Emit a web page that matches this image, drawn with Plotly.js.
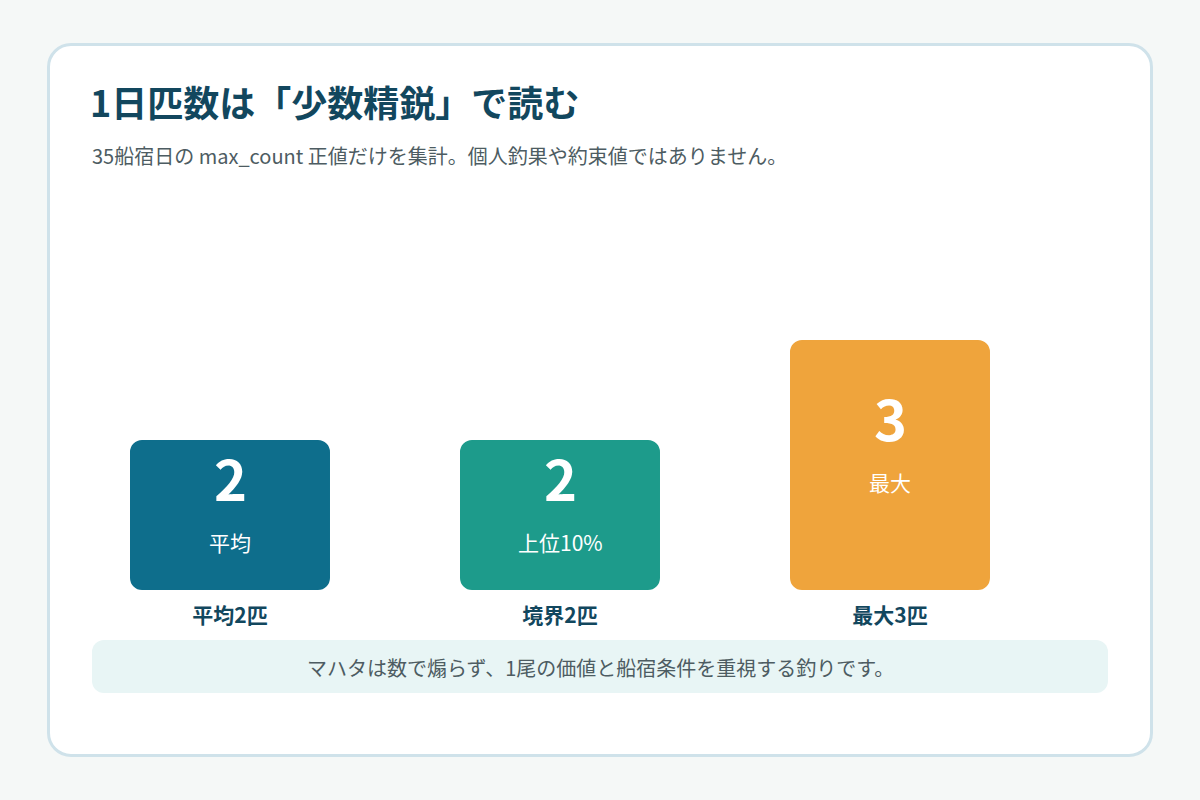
<!DOCTYPE html>
<html lang="ja">
<head>
<meta charset="utf-8">
<script src="https://cdn.plot.ly/plotly-3.0.1.min.js"></script>
<style>
  html, body { margin: 0; padding: 0; background: #f5f8f7; }
  #card {
    position: absolute; left: 47px; top: 43px; width: 1100px; height: 708px;
    background: #ffffff; border: 3px solid #cfe2ea; border-radius: 24px;
  }
  #note {
    position: absolute; left: 92px; top: 640px; width: 1016px; height: 53px;
    background: #e8f5f5; border-radius: 12px;
  }
  #chart { position: absolute; left: 0; top: 0; width: 1200px; height: 800px; }
</style>
</head>
<body>
<div id="card"></div>
<div id="note"></div>
<div id="chart"></div>
<script>
// chart data
const categories = ["平均2匹", "境界2匹", "最大3匹"];
const values = [2, 2, 3];
const innerLabels = ["平均", "上位10%", "最大"];
const barColors = ["#0e6e8c", "#1d9b8b", "#efa43c"];

const FONT = "'Noto Sans CJK JP', 'Noto Sans', sans-serif";
const INK = "#12475e";
const GRAY = "#4d5c62";

// plot area in window pixels
const M = { l: 65, r: 145, t: 190, b: 210 };
const W = 1200 - M.l - M.r;
const H = 800 - M.t - M.b;
const Y_FLOOR = 0.5;
const Y_TOP = 4.5;

// window pixel -> paper coords
const px = (x) => (x - M.l) / W;
const py = (y) => (800 - M.b - y) / H;

// floating bars from the axis floor, so both ends get rounded corners
const trace = {
  type: "bar",
  x: categories,
  y: values.map((v) => v - Y_FLOOR),
  base: values.map(() => Y_FLOOR),
  width: 0.606,
  marker: { color: barColors, cornerradius: 12, line: { width: 0 } },
  hoverinfo: "skip",
};

const annotations = [];
categories.forEach((cat, i) => {
  const yNum = Y_FLOOR + 0.2 + 0.6 * (values[i] - Y_FLOOR);
  annotations.push({
    x: cat, y: yNum, xref: "x", yref: "y", yshift: 4,
    text: String(values[i]), showarrow: false,
    font: { family: FONT, size: 56, weight: 700, color: "#ffffff" },
    xanchor: "center", yanchor: "middle",
  });
  annotations.push({
    x: cat, y: yNum, xref: "x", yref: "y", yshift: -62,
    text: innerLabels[i], showarrow: false,
    font: { family: FONT, size: 21, color: "#ffffff" },
    xanchor: "center", yanchor: "middle",
  });
});

annotations.push({
  x: px(90), y: py(155), xref: "paper", yref: "paper",
  text: "35船宿日の max_count 正値だけを集計。個人釣果や約束値ではありません。",
  showarrow: false, xanchor: "left", yanchor: "middle",
  font: { family: FONT, size: 20, color: GRAY },
});
annotations.push({
  x: px(600), y: py(667), xref: "paper", yref: "paper",
  text: "マハタは数で煽らず、1尾の価値と船宿条件を重視する釣りです。",
  showarrow: false, xanchor: "center", yanchor: "middle",
  font: { family: FONT, size: 20, color: GRAY },
});

const layout = {
  width: 1200,
  height: 800,
  margin: M,
  paper_bgcolor: "rgba(0,0,0,0)",
  plot_bgcolor: "rgba(0,0,0,0)",
  showlegend: false,
  font: { family: FONT, color: INK },
  title: {
    text: "1日匹数は「少数精鋭」で読む",
    font: { family: FONT, size: 36, weight: 700, color: INK },
    xref: "container", yref: "container",
    x: 90 / 1200, xanchor: "left",
    y: 1 - 104 / 800, yanchor: "middle",
  },
  xaxis: {
    range: [-0.5, 2.5],
    showgrid: false, zeroline: false, showline: false,
    ticks: "",
    ticklabelstandoff: 11,
    tickfont: { family: FONT, size: 21, weight: 700, color: INK },
    fixedrange: true,
  },
  yaxis: {
    range: [Y_FLOOR, Y_TOP],
    visible: false,
    fixedrange: true,
  },
  annotations: annotations,
};

Plotly.newPlot("chart", [trace], layout, { displayModeBar: false, staticPlot: true });
</script>
</body>
</html>
